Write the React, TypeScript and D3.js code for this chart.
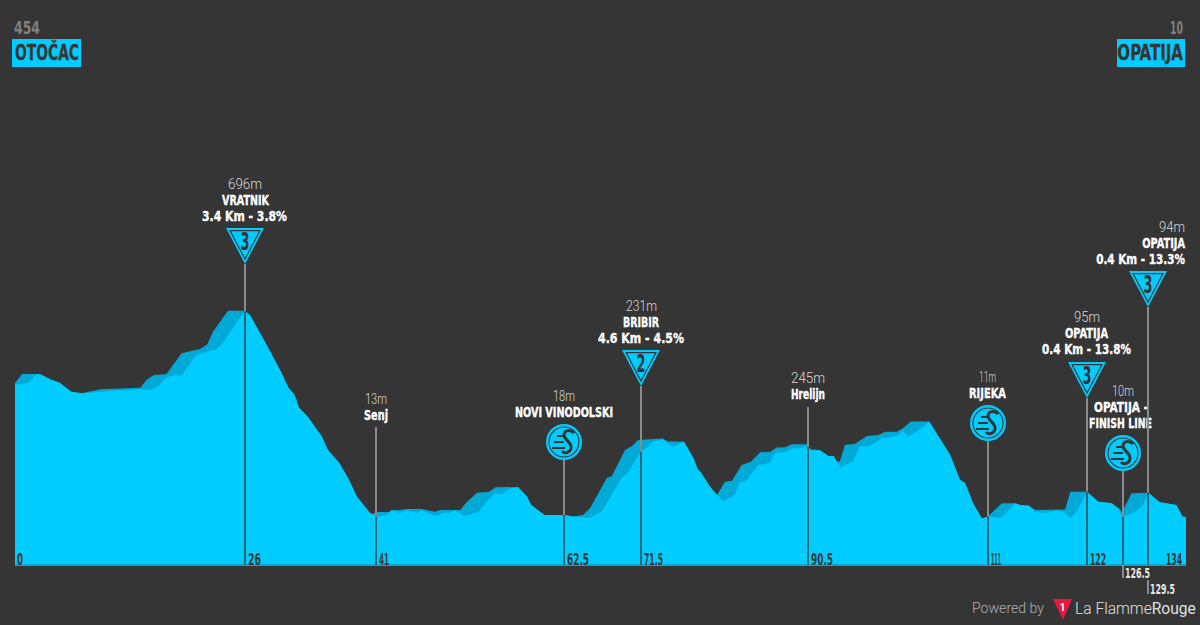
import React from "react";
import * as d3 from "d3";

// Elevation profile, visible surface (km, metres)
const frontKm = [0,0.4,1.5,2.5,3,4,5.1,6.4,7.6,9.1,10.8,14.3,15.4,16.3,17.3,18.3,19,20.7,23,23.7,26.2,26.8,28.7,30.4,31.2,31.9,32.4,33.4,35,35.7,37,38.1,39,40.5,40.8,41.2,42.4,43,43.9,44.7,45.8,46.4,48.1,48.9,49.6,50.2,51.3,52.9,53.8,54.8,55.5,56.5,57.4,58.4,58.9,60.4,62.6,63.7,65.6,66.9,68.2,69.2,69.9,71.4,72.2,72.8,73.9,75.1,76.3,77.4,77.9,78.2,79.3,80.1,80.8,82.1,82.7,83.3,84.8,85.6,86.1,86.7,87.9,88.8,89.6,90.4,90.9,91.8,92.8,93.4,94.2,94.9,95.6,96.4,97.3,98.9,100.6,101.3,101.9,103.3,104.3,105.5,106.7,107.8,108.4,109.3,110.3,111,112.6,114.1,114.7,115.7,116.4,117.5,118.9,119.6,120.4,121.1,122.3,123.6,125.1,125.9,126.3,127.8,128.7,129.3,130.6,132.5,133.2,133.6];
const frontElev = [452,449,456,485,483,468,456,426,421,424,428,434,432,443,474,482,479,549,569,589,696,683,583,489,439,415,372,342,276,231,187,131,75,20,17,8,13,28,19,28,21,28,11,21,21,28,10,24,58,86,83,103,106,75,47,13,13,8,4,24,87,137,154,225,240,259,267,241,259,204,166,158,108,80,60,80,123,125,181,184,188,220,223,237,237,244,229,231,211,211,172,183,192,244,242,270,278,295,276,300,326,270,214,131,120,53,2,8,4,53,47,44,24,19,28,24,4,24,91,58,53,36,6,24,47,88,56,47,8,6];

// Elevation profile, darker shaded surface behind it
const backKm = [0,0.8,2.5,3,4,5.1,6.4,7.6,9.1,9.7,14.3,15,15.8,17.3,19,21.1,21.9,22.6,24.3,26.2,26.8,28.7,30.4,31.2,31.9,32.4,33.4,35,35.7,37,38.1,39,40.5,40.8,41.2,42.6,43,43.9,44.7,46.4,47.9,48.5,50.8,51.5,52.7,54.1,54.8,57.4,58.4,58.9,60.4,62.6,63.7,64.8,65.6,67.5,68.1,69.6,70.4,71.1,73.9,74.5,76.3,77.4,77.9,78.2,79.3,80.1,81,81.8,82.9,84,85,86.2,86.9,87.9,88.6,90.4,90.6,91.8,92.8,93.4,93.7,94.1,94.7,95.8,97.2,98.5,99.3,100.6,101.3,102.2,104.3,105.5,106.7,107.8,108.4,109.3,110.3,111,112.6,114.1,114.7,115.7,116.4,119.8,120.4,122.3,123.6,125.1,125.9,126.3,127.4,129.3,130.6,132.5,133.2,133.6];
const backElev = [455,485,485,483,468,456,426,421,430,434,439,465,481,485,555,569,583,627,697,697,683,583,489,439,415,372,342,276,231,187,131,75,20,17,23,23,30,30,33,33,24,30,30,55,88,91,106,107,75,47,13,13,8,13,36,136,144,231,244,264,269,259,259,204,166,158,108,80,125,128,181,192,223,225,239,240,250,250,233,231,211,211,192,192,248,251,278,281,292,292,304,326,326,270,214,131,120,53,2,8,53,53,47,44,30,32,91,91,58,53,36,24,86,88,56,47,8,6];

// Waypoints
const wpKm = [26.2, 41.2, 62.6, 71.4, 90.5, 111, 122.3, 126.4, 129.3];
const wpKind = ["climb", "town", "sprint", "climb", "town", "sprint", "climb", "sprint", "climb"];
const wpCat = ["3", "", "", "2", "", "", "3", "", "3"];
const wpKmLabel = ["26", "41", "62.5", "71.5", "90.5", "111", "122", "126.5", "129.5"];
const wpAlt = ["696m", "13m", "18m", "231m", "245m", "11m", "95m", "10m", "94m"];
const wpName = ["VRATNIK", "Senj", "NOVI VINODOLSKI", "BRIBIR", "Hrelijn", "RIJEKA", "OPATIJA", "OPATIJA -", "OPATIJA"];
const wpExtra = ["3.4 Km - 3.8%", "", "", "4.6 Km - 4.5%", "", "", "0.4 Km - 13.8%", "FINISH LINE", "0.4 Km - 13.3%"];

const startName = "OTOČAC";
const startAlt = "454";
const endName = "OPATIJA";
const endAlt = "10";
const endKmLabel = "134";
const startKmLabel = "0";

// Layout, per waypoint
const symbolTop = [228, 427, 424, 350, 407, 405, 362, 435, 271];
const altY = [184, 399, 396, 306, 378, 377, 317, 391, 227];
const altBox = [[228, 34], [365, 22], [553, 22], [626, 31], [791, 34], [979, 17], [1074, 26], [1112, 22], [1159, 26]];
const nameBox = [[222, 47], [364, 24], [515, 98], [623, 36], [791, 34], [969, 37], [1065, 43], [1094, 54], [1142, 43]];
const extraBox = [[202, 85], [0, 0], [0, 0], [598, 86], [0, 0], [0, 0], [1042, 89], [1089, 63], [1096, 89]];
const kmLabelW = [13, 10, 22, 19, 22, 10, 16, 25, 25];

const BG = "#353535";
const CYAN = "#00ccff";
const SHADE = "#00a9d6";
const DARK = "#343434";
const BASE_Y = 565;

const x = d3.scaleLinear().domain([0, 133.6]).range([15, 1186]);
const y = d3.scaleLinear().domain([-154, 696]).range([BASE_Y, 311]);

const area = (km: number[], el: number[]) =>
  d3.area<number>()
    .x((d) => x(km[d]))
    .y0(BASE_Y)
    .y1((d) => y(el[d]))(d3.range(km.length)) as string;

const frontAt = d3.scaleLinear().domain(frontKm).range(frontElev);

const sans = "Roboto, 'Liberation Sans', sans-serif";
const narrow = "'Liberation Sans Narrow', 'DejaVu Sans Condensed', sans-serif";

function T({ x0, w, cy, s, size, weight, fill, family, heavy }: any) {
  return (
    <text
      x={x0}
      y={cy}
      dy="0.36em"
      textLength={w}
      lengthAdjust="spacingAndGlyphs"
      fontFamily={family || narrow}
      fontSize={size}
      fontWeight={weight}
      fill={fill}
      stroke={heavy ? fill : "none"}
      strokeWidth={heavy ? 0.35 : 0}
    >
      {s}
    </text>
  );
}

// Right-edge text: anchored at its end and narrowed by a horizontal scale
function R({ xEnd, cy, s, size, fill, sx }: any) {
  return (
    <g transform={`translate(${xEnd},${cy}) scale(${sx},1)`}>
      <text dy="0.36em" textAnchor="end" fontFamily={narrow} fontSize={size} fontWeight={700} fill={fill} stroke={fill} strokeWidth={0.35}>
        {s}
      </text>
    </g>
  );
}

function Climb({ cx, top, cat }: { cx: number; top: number; cat: string }) {
  return (
    <g transform={`translate(${cx},${top})`}>
      <path d="M-19,0 L19,0 L0,36 Z" fill={CYAN} />
      <path d="M-15,2.6 L15,2.6 L0,31 Z" fill="none" stroke={DARK} strokeWidth={1.1} />
      <text x={-4.5} y={22} textLength={9} lengthAdjust="spacingAndGlyphs" fontFamily={narrow} fontWeight={700} fontSize={24} fill={DARK}>
        {cat}
      </text>
    </g>
  );
}

function Sprint({ cx, top }: { cx: number; top: number }) {
  return (
    <g transform={`translate(${cx},${top + 18})`}>
      <circle r={18} fill={CYAN} />
      <circle r={15} fill="none" stroke={DARK} strokeWidth={1.1} />
      <path d="M-7,-6 H-1 M-10,0 H0 M-12,6 H1" stroke={DARK} strokeWidth={1.8} fill="none" />
      <path d="M10,-9 C6,-13 0,-12 0,-7 C0,-2 8,0 7,6 C6,11 0,12 -2,9" stroke={DARK} strokeWidth={3} fill="none" />
    </g>
  );
}

export default function App() {
  return (
    <svg width={1200} height={625} style={{ position: "absolute", left: 0, top: 0, display: "block", background: BG }}>
      <rect width={1200} height={625} fill={BG} />

      <path d={area(backKm, backElev)} fill={SHADE} />
      <path d={area(frontKm, frontElev)} fill={CYAN} />
      <line x1={15} x2={1186} y1={BASE_Y} y2={BASE_Y} stroke={SHADE} strokeWidth={2} />

      {/* Start and finish headers */}
      <T x0={14} w={26} cy={28} s={startAlt} size={17} weight={700} fill="#808080" />
      <rect x={12} y={39} width={69} height={28} fill={CYAN} />
      <T x0={15} w={64} cy={52} s={startName} size={22} weight={700} fill={DARK} heavy />
      <T x0={1170} w={13} cy={28} s={endAlt} size={17} weight={700} fill="#808080" />
      <rect x={1117} y={39} width={68} height={28} fill={CYAN} />
      <R xEnd={1183} cy={52} s={endName} size={22} fill={DARK} sx={0.76} />

      {wpKm.map((km, i) => {
        const px = Math.round(x(km));
        const surface = y(frontAt(km));
        const kind = wpKind[i];
        const lineTop = kind === "town" ? symbolTop[i] : symbolTop[i] + 36;
        const under = i === 7 || i === 8;
        const nameY = altY[i] + 16;
        return (
          <g key={i}>
            <line x1={px} x2={px} y1={lineTop} y2={surface} stroke="#8a8a8a" strokeWidth={2} />
            <line x1={px} x2={px} y1={surface} y2={BASE_Y} stroke="#24667c" strokeWidth={2} />
            {kind === "climb" && <Climb cx={px} top={symbolTop[i]} cat={wpCat[i]} />}
            {kind === "sprint" && <Sprint cx={px} top={symbolTop[i]} />}
            <T x0={altBox[i][0]} w={altBox[i][1]} cy={altY[i]} s={wpAlt[i]} size={15} weight={300} fill="#d8d8d8" family={sans} />
            {i === 8 ? (
              <>
                <R xEnd={1185} cy={nameY} s={wpName[i]} size={14.5} fill="#ffffff" sx={0.75} />
                <R xEnd={1185} cy={nameY + 16} s={wpExtra[i]} size={14.5} fill="#ffffff" sx={0.8} />
              </>
            ) : (
              <>
                <T x0={nameBox[i][0]} w={nameBox[i][1]} cy={nameY} s={wpName[i]} size={14.5} weight={700} fill="#ffffff" heavy />
                {wpExtra[i] && (
                  <T x0={extraBox[i][0]} w={extraBox[i][1]} cy={nameY + 16} s={wpExtra[i]} size={14.5} weight={700} fill="#ffffff" heavy />
                )}
              </>
            )}
            {!under && (
              <T x0={px + 3} w={kmLabelW[i]} cy={559} s={wpKmLabel[i]} size={15.5} weight={700} fill={DARK} />
            )}
            {i === 7 && (
              <>
                <line x1={px} x2={px} y1={BASE_Y} y2={578} stroke="#8a8a8a" strokeWidth={2} />
                <T x0={px + 2} w={kmLabelW[i]} cy={573} s={wpKmLabel[i]} size={14.5} weight={700} fill="#e8e8e8" />
              </>
            )}
            {i === 8 && (
              <>
                <line x1={px} x2={px} y1={580} y2={594} stroke="#8a8a8a" strokeWidth={2} />
                <T x0={px + 2} w={kmLabelW[i]} cy={589} s={wpKmLabel[i]} size={14.5} weight={700} fill="#e8e8e8" />
              </>
            )}
          </g>
        );
      })}

      <T x0={17} w={6} cy={559} s={startKmLabel} size={15.5} weight={700} fill={DARK} />
      <T x0={1166} w={16} cy={559} s={endKmLabel} size={15.5} weight={700} fill={DARK} />

      {/* Footer */}
      <T x0={972} w={72} cy={608} s="Powered by" size={14} weight={300} fill="#b0b0b0" family={sans} />
      <path d="M1053,599 H1072 L1063,620 Z" fill="#e8173f" />
      <text x={1062.5} y={611} textAnchor="middle" fontFamily={sans} fontWeight={700} fontSize={10} fill="#fff">1</text>
      <text x={1075} y={608} dy="0.36em" fontFamily={sans} fontSize={15.6} fontWeight={300} fill="#e0e0e0">
        La Flamme<tspan fontWeight={400}>Rouge</tspan>
      </text>
    </svg>
  );
}
